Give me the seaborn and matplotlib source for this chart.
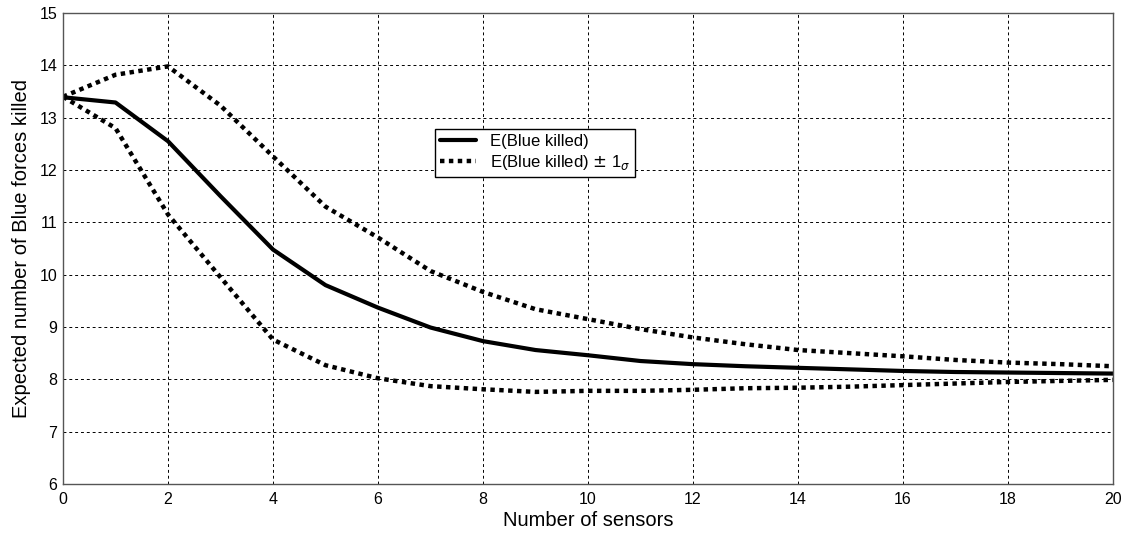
import numpy as np
import pandas as pd
import matplotlib
matplotlib.use("Agg")
import matplotlib.pyplot as plt
import seaborn as sns

sensors = list(range(0, 21))
mean_killed = [13.39, 13.29, 12.55, 11.5, 10.48, 9.8, 9.37, 8.99, 8.73, 8.56, 8.46,
               8.35, 8.29, 8.25, 8.22, 8.19, 8.16, 8.14, 8.13, 8.12, 8.11]
upper_killed = [13.4, 13.82, 13.98, 13.23, 12.26, 11.3, 10.71, 10.07, 9.67, 9.34, 9.15,
                8.96, 8.8, 8.67, 8.56, 8.5, 8.44, 8.37, 8.32, 8.29, 8.25]
lower_killed = [13.4, 12.8, 11.15, 9.95, 8.76, 8.27, 8.02, 7.87, 7.81, 7.76, 7.78,
                7.78, 7.8, 7.83, 7.84, 7.86, 7.89, 7.92, 7.95, 7.97, 7.99]

df = pd.DataFrame({'sensors': sensors, 'mean': mean_killed,
                   'upper': upper_killed, 'lower': lower_killed})

sns.set_style('white')
plt.rcParams['font.family'] = ['Liberation Sans', 'DejaVu Sans']
plt.rcParams['text.color'] = 'black'
plt.rcParams['axes.labelcolor'] = 'black'

fig, ax = plt.subplots(figsize=(11.26, 5.4), dpi=100)
fig.subplots_adjust(left=63/1126, right=1113/1126, top=1-13/540, bottom=1-484/540)

sns.lineplot(data=df, x='sensors', y='mean', ax=ax, color='black', linewidth=3.0,
             label='E(Blue killed)')
sns.lineplot(data=df, x='sensors', y='upper', ax=ax, color='black', linewidth=3.2,
             linestyle=(0, (1, 1)), dash_capstyle='butt',
             label='E(Blue killed) $\\pm$ 1$_{\\sigma}$')
sns.lineplot(data=df, x='sensors', y='lower', ax=ax, color='black', linewidth=3.2,
             linestyle=(0, (1, 1)), dash_capstyle='butt', label='_nolegend_')

ax.set_xlim(0, 20)
ax.set_ylim(6, 15)
ax.set_xticks(range(0, 21, 2))
ax.set_yticks(range(6, 16))
ax.grid(True, color='black', linestyle=(0, (3, 3)), linewidth=0.7)
ax.tick_params(direction='in', length=5, labelsize=11.5, colors='black')
ax.tick_params(axis='x', pad=6)
ax.tick_params(axis='y', pad=4)
for sp in ax.spines.values():
    sp.set_color('#555555')
    sp.set_linewidth(1.0)

ax.set_xlabel('Number of sensors', fontsize=14.5, labelpad=3, color='black')
ax.set_ylabel('Expected number of Blue forces killed', fontsize=14.5, labelpad=6, color='black')

leg = ax.legend(loc='upper left', bbox_to_anchor=(0.354, 0.754), fontsize=12,
                frameon=True, fancybox=False, framealpha=1, edgecolor='black',
                handlelength=2.2, borderpad=0.3, labelspacing=0.25,
                borderaxespad=0, labelcolor='black')
leg.get_frame().set_linewidth(1.0)

plt.savefig('out.png', dpi=100)
